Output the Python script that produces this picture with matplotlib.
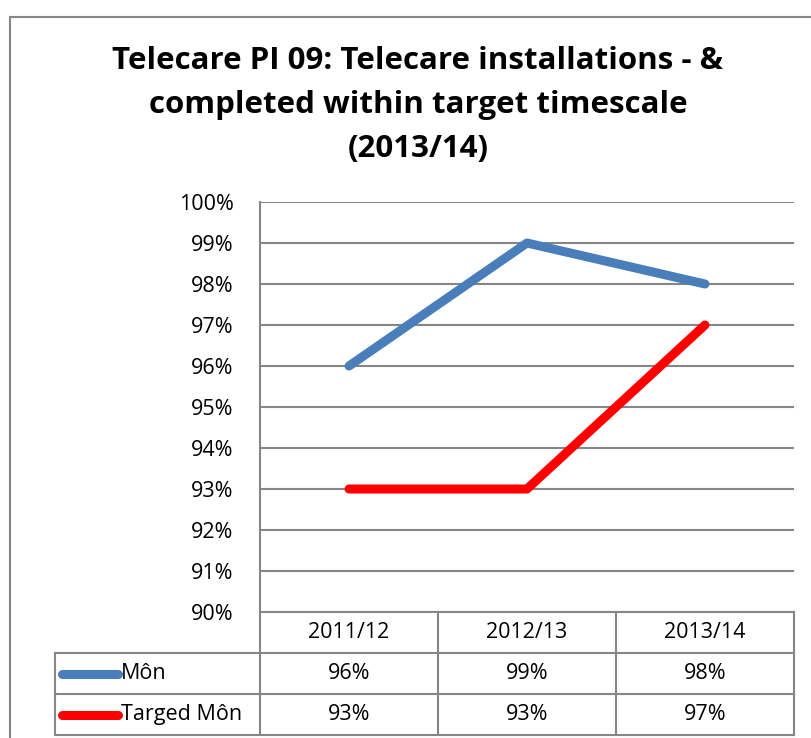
import matplotlib
matplotlib.use('Agg')
import matplotlib.pyplot as plt

matplotlib.rcParams['font.family'] = ['Open Sans', 'DejaVu Sans']

# data
categories = ['2011/12', '2012/13', '2013/14']
mon = [96, 99, 98]
targed_mon = [93, 93, 97]
series_names = ['Môn', 'Targed Môn']
series_colors = ['#4A7EBB', '#FF0000']
yticks = list(range(90, 101))
title = 'Telecare PI 09: Telecare installations - &\ncompleted within target timescale\n(2013/14)'

W, H = 811, 738
fig = plt.figure(figsize=(W / 100, H / 100), dpi=100)
ax = fig.add_axes([260 / W, 1 - 612 / H, (794 - 260) / W, (612 - 202) / H])

grey = '#868686'
fs = 15.5
x = list(range(len(categories)))
for vals, c in zip([mon, targed_mon], series_colors):
    ax.plot(x, vals, color=c, linewidth=6.5, solid_capstyle='round', solid_joinstyle='round', zorder=3)

ax.set_xlim(-0.5, len(categories) - 0.5)
ax.set_ylim(90, 100)
ax.set_yticks(yticks)
ax.set_yticklabels([f'{v}%' for v in yticks], fontsize=fs)
ax.tick_params(axis='y', length=0, pad=19)
ax.set_xticks([])
ax.grid(axis='y', color=grey, linewidth=1.5)
for s in ['top', 'right', 'bottom']:
    ax.spines[s].set_visible(False)
ax.spines['left'].set_color(grey)
ax.spines['left'].set_linewidth(1.5)

# data table under the plot
ph = 410  # axes height in pixels
row_h = 41 / ph
rows = [mon, targed_mon]
lines_kw = dict(color=grey, linewidth=1.5, clip_on=False, transform=ax.transAxes)
legend_left = (55 - 260) / 534
ax.plot([0, 1], [0, 0], **lines_kw)
for k in range(1, 4):
    ax.plot([legend_left, 1], [-k * row_h, -k * row_h], **lines_kw)
for k in range(4):
    ax.plot([k / 3, k / 3], [0, -3 * row_h], **lines_kw)
ax.plot([legend_left, legend_left], [-row_h, -3 * row_h], **lines_kw)

tr = matplotlib.transforms.blended_transform_factory(ax.transData, ax.transAxes)
for i, cat in enumerate(categories):
    ax.text(i, -0.5 * row_h, cat, transform=tr, ha='center', va='center', fontsize=fs)
    for r, vals in enumerate(rows):
        ax.text(i, -(r + 1.5) * row_h, f'{vals[i]}%', transform=tr, ha='center', va='center', fontsize=fs)
for r, (name, c) in enumerate(zip(series_names, series_colors)):
    yy = -(r + 1.5) * row_h
    ax.plot([(62 - 260) / 534, (118 - 260) / 534], [yy, yy], color=c, linewidth=6.5,
            solid_capstyle='round', clip_on=False, transform=ax.transAxes)
    ax.text((121 - 260) / 534, yy, name, transform=ax.transAxes, ha='left', va='center', fontsize=fs)

fig.text(418 / W, 1 - 105 / H, title, ha='center', va='center', fontsize=22.5,
         fontweight='bold', linespacing=1.62)

# outer chart border
fig.add_artist(plt.Rectangle((10 / W, -0.1), 1.2, 1 - 17 / H + 0.1, transform=fig.transFigure,
                             fill=False, edgecolor=grey, linewidth=1.5))

fig.savefig('out.png', dpi=100)
